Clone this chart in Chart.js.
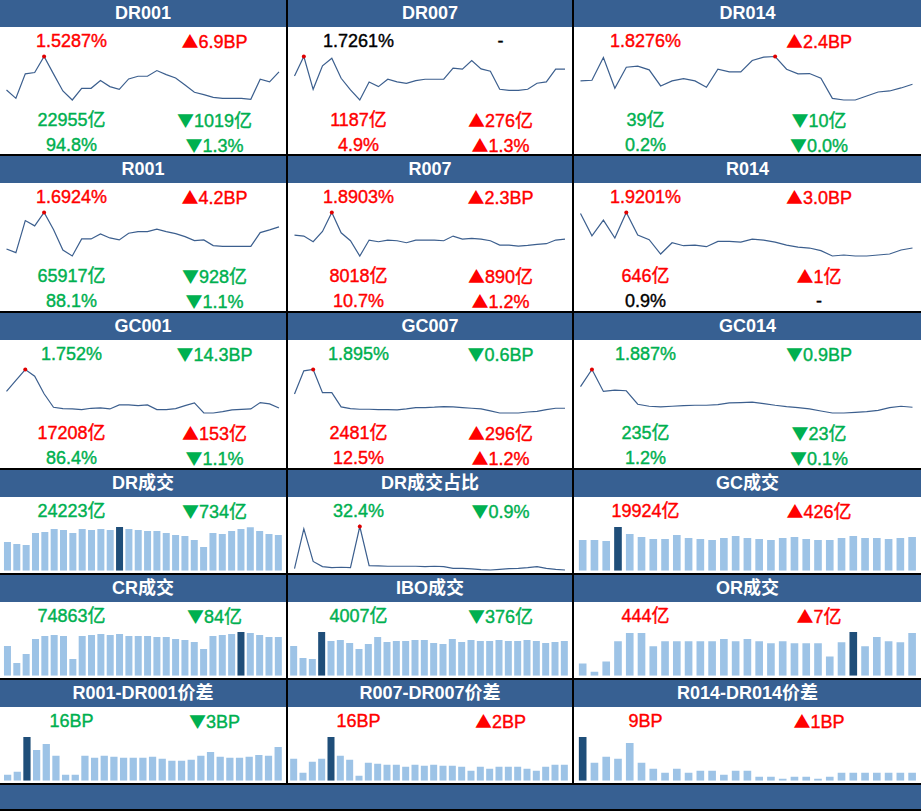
<!DOCTYPE html>
<html lang="zh">
<head>
<meta charset="UTF-8">
<title>资金面看板</title>
<script src="https://cdn.jsdelivr.net/npm/chart.js"></script>
<style>
body{margin:0;background:#fff;width:921px;height:811px;position:relative;overflow:hidden;
  font-family:"Liberation Sans",Arial,"Noto Sans CJK SC",sans-serif;}
.hd{position:absolute;height:27px;background:#376092;color:#fff;font-weight:bold;font-size:18px;line-height:27px;text-align:center;}
.tx{position:absolute;font-size:18px;line-height:20px;text-align:center;white-space:nowrap;-webkit-text-stroke:0.4px currentColor;}
.tri{font-family:"Noto Sans CJK SC",sans-serif;font-size:17px;-webkit-text-stroke:0;}
.ln{position:absolute;background:#000;}
canvas{position:absolute;}
.r{color:#ff0000}.g{color:#00b050}.k{color:#000}
</style>
</head>
<body>
<script>
// sparkline series (30 days)
const dr001Rate = [40,15,88,92,140,88,37,10,45,45,68,50,42,73,81,81,98,86,76,55,33,26,18,15,15,15,12,72,64,94];
const dr007Rate = [82,140,42,112,135,75,40,10,64,50,72,64,60,68,72,72,72,105,102,128,103,96,42,39,39,42,60,64,102,102];
const dr014Rate = [67,69,137,45,108,111,100,52,67,74,67,48,102,94,94,128,138,140,102,88,89,75,15,10,10,22,34,37,46,57];
const r001Rate = [30,19,115,99,139,88,27,9,60,60,75,63,57,77,82,82,89,82,76,67,55,57,40,38,38,38,38,79,87,96];
const r007Rate = [72,69,52,83,140,79,55,9,57,52,57,55,49,57,57,57,55,69,60,62,60,55,42,42,39,41,44,46,57,60];
const r014Rate = [137,70,117,63,140,72,58,15,49,40,42,37,53,53,51,60,57,51,42,36,33,25,9,12,9,9,12,15,27,33];
const gc001Rate = [77,110,142,122,70,30,26,25,23,27,28,25,37,37,35,37,23,23,26,35,43,13,13,17,22,24,25,44,40,28];
const gc007Rate = [70,138,142,74,74,32,27,25,25,24,24,23,26,30,30,31,33,32,30,28,26,20,14,14,14,17,19,24,28,28];
const gc014Rate = [92,143,78,82,80,40,34,32,34,36,37,37,39,44,45,46,42,37,33,30,26,20,14,14,16,18,22,30,34,31];
const drShare = [14,130,35,20,17,18,17,137,23,22,21,21,21,21,20,21,20,15,15,13,11,10,12,14,15,17,20,15,12,10];

const drVol = [86,80,77,113,116,125,122,113,125,122,125,122,131,125,122,119,119,113,107,104,92,71,113,110,119,125,130,119,110,107];
const gcVol = [92,92,89,131,110,101,95,95,107,98,95,92,98,104,98,95,92,98,101,95,92,92,98,104,98,98,95,98,101];
const crVol = [89,38,65,110,119,122,119,50,119,122,125,122,125,119,119,119,116,116,110,107,101,80,119,122,125,131,128,122,116,116];
const iboVol = [89,53,50,131,104,107,98,80,95,116,101,104,104,107,107,98,95,110,101,107,104,104,107,104,104,107,104,98,101,104];
const orVol = [36,12,42,102,126,126,87,102,102,102,102,102,108,102,108,102,96,102,96,96,96,57,99,129,87,114,102,99,126];
const r001Spread = [18,27,132,93,111,75,18,18,75,69,75,72,69,69,69,72,66,60,60,63,75,87,72,69,69,72,78,75,102];
const r007Spread = [66,24,57,66,132,75,63,15,54,51,48,48,42,48,45,48,45,45,42,30,42,36,42,42,42,36,30,42,48,48];
const r014Spread = [132,54,72,66,114,54,36,24,36,24,30,30,18,30,30,12,12,6,12,12,6,12,24,24,24,24,24,24,24];

// layout
const colX = [0, 288, 574];
const colW = [286, 284, 347];
const colSplit = [143, 141, 143];
const rowTop = [0, 156, 313, 470, 575, 680];

const panels = [
  {c:0,r:0,title:'DR001',type:'line',data:dr001Rate,txt:[['1.5287%','r'],['▲6.9BP','r'],['22955亿','g'],['▼1019亿','g'],['94.8%','g'],['▼1.3%','g']]},
  {c:1,r:0,title:'DR007',type:'line',data:dr007Rate,txt:[['1.7261%','k'],['-','k'],['1187亿','r'],['▲276亿','r'],['4.9%','r'],['▲1.3%','r']]},
  {c:2,r:0,title:'DR014',type:'line',data:dr014Rate,txt:[['1.8276%','r'],['▲2.4BP','r'],['39亿','g'],['▼10亿','g'],['0.2%','g'],['▼0.0%','g']]},
  {c:0,r:1,title:'R001',type:'line',data:r001Rate,txt:[['1.6924%','r'],['▲4.2BP','r'],['65917亿','g'],['▼928亿','g'],['88.1%','g'],['▼1.1%','g']]},
  {c:1,r:1,title:'R007',type:'line',data:r007Rate,txt:[['1.8903%','r'],['▲2.3BP','r'],['8018亿','r'],['▲890亿','r'],['10.7%','r'],['▲1.2%','r']]},
  {c:2,r:1,title:'R014',type:'line',data:r014Rate,txt:[['1.9201%','r'],['▲3.0BP','r'],['646亿','r'],['▲1亿','r'],['0.9%','k'],['-','k']]},
  {c:0,r:2,title:'GC001',type:'line',data:gc001Rate,txt:[['1.752%','g'],['▼14.3BP','g'],['17208亿','r'],['▲153亿','r'],['86.4%','g'],['▼1.1%','g']]},
  {c:1,r:2,title:'GC007',type:'line',data:gc007Rate,txt:[['1.895%','g'],['▼0.6BP','g'],['2481亿','r'],['▲296亿','r'],['12.5%','r'],['▲1.2%','r']]},
  {c:2,r:2,title:'GC014',type:'line',data:gc014Rate,txt:[['1.887%','g'],['▼0.9BP','g'],['235亿','g'],['▼23亿','g'],['1.2%','g'],['▼0.1%','g']]},
  {c:0,r:3,title:'DR成交',type:'bar',data:drVol,txt:[['24223亿','g'],['▼734亿','g']]},
  {c:1,r:3,title:'DR成交占比',type:'line',data:drShare,txt:[['32.4%','g'],['▼0.9%','g']]},
  {c:2,r:3,title:'GC成交',type:'bar',data:gcVol,txt:[['19924亿','r'],['▲426亿','r']]},
  {c:0,r:4,title:'CR成交',type:'bar',data:crVol,txt:[['74863亿','g'],['▼84亿','g']]},
  {c:1,r:4,title:'IBO成交',type:'bar',data:iboVol,txt:[['4007亿','g'],['▼376亿','g']]},
  {c:2,r:4,title:'OR成交',type:'bar',data:orVol,txt:[['444亿','r'],['▲7亿','r']]},
  {c:0,r:5,title:'R001-DR001价差',type:'bar',data:r001Spread,txt:[['16BP','g'],['▼3BP','g']]},
  {c:1,r:5,title:'R007-DR007价差',type:'bar',data:r007Spread,txt:[['16BP','r'],['▲2BP','r']]},
  {c:2,r:5,title:'R014-DR014价差',type:'bar',data:r014Spread,txt:[['9BP','r'],['▲1BP','r']]}
];

function el(tag, cls, css, text) {
  const e = document.createElement(tag);
  if (cls) e.className = cls;
  Object.assign(e.style, css);
  if (text != null) e.textContent = text;
  document.body.appendChild(e);
  return e;
}

// grid lines
[154, 311, 468, 573, 678, 783, 809].forEach(y => el('div', 'ln', {left:'0px', top:y+'px', width:'921px', height:'2px'}));
[286, 572].forEach(x => el('div', 'ln', {left:x+'px', top:'0px', width:'2px', height:'784px'}));
el('div', 'hd', {left:'0px', top:'785px', width:'921px', height:'24px'});

const textY = [41, 120, 145];

panels.forEach(p => {
  const x0 = colX[p.c], w = colW[p.c], y0 = rowTop[p.r];
  el('div', 'hd', {left:x0+'px', top:y0+'px', width:w+'px'}, p.title);

  p.txt.forEach((t, i) => {
    const line = Math.floor(i / 2), right = i % 2;
    const cx = right ? x0 + colSplit[p.c] : x0;
    const cw = right ? w - colSplit[p.c] : colSplit[p.c];
    const d = el('div', 'tx ' + t[1], {left:cx+'px', width:cw+'px', top:(y0 + textY[line] - 10)+'px'});
    const s = t[0];
    if (s[0] === '▲' || s[0] === '▼') {
      const tri = document.createElement('span');
      tri.className = 'tri';
      tri.textContent = s[0];
      d.appendChild(tri);
      d.appendChild(document.createTextNode(s.slice(1)));
    } else {
      d.textContent = s;
    }
  });

  const cv = el('canvas', null, {left:x0+'px', top:(y0+50)+'px'});
  cv.width = w; cv.height = 56;
  const max = Math.max(...p.data), min = Math.min(...p.data);
  const maxIdx = p.data.indexOf(max);
  const isBar = p.type === 'bar';
  const ds = isBar ? {
    data: p.data,
    backgroundColor: p.data.map((v, i) => i === maxIdx ? '#1f4e79' : '#9dc3e6'),
    categoryPercentage: p.c === 2 ? 0.65 : 0.75,
    barPercentage: 1
  } : {
    data: p.data,
    borderColor: '#3c5f8e',
    borderWidth: 1.2,
    tension: 0,
    pointRadius: p.data.map((v, i) => i === maxIdx ? 2 : 0),
    pointBackgroundColor: '#e00000',
    pointBorderWidth: 0,
    clip: false
  };
  new Chart(cv, {
    type: p.type,
    data: {labels: p.data.map((_, i) => i + 1), datasets: [ds]},
    options: {
      responsive: false,
      animation: false,
      events: [],
      layout: {padding: isBar ? {left: p.c === 1 ? 1 : 2.8, right: 3, top: 7, bottom: 5.3}
                              : {left: 6.5, right: p.c === 2 ? 8.5 : 7, top: 6.5, bottom: 6}},
      plugins: {legend: {display: false}, tooltip: {enabled: false}},
      scales: {
        x: {display: false, offset: isBar},
        y: {display: false, min: isBar ? 0 : min, max: max}
      }
    }
  });
});
</script>
</body>
</html>
